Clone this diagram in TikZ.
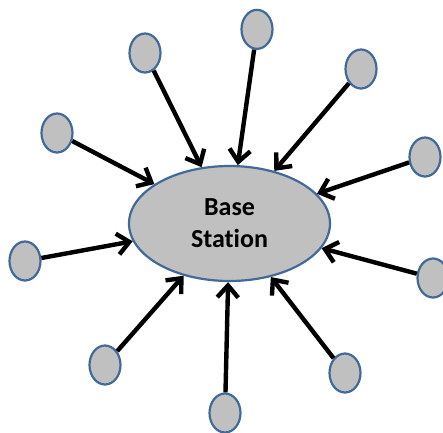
\documentclass[tikz,border=0pt]{standalone}
\usepackage{fontspec}
\setmainfont{Carlito}[Ligatures={NoCommon}]
\usetikzlibrary{shapes.geometric,arrows.meta}
\definecolor{nodefill}{HTML}{C0C0C0}
\definecolor{nodeline}{HTML}{41699A}
\tikzset{
  sensor/.style={ellipse,draw=nodeline,fill=nodefill,line width=2.2pt,minimum width=31pt,minimum height=39pt,inner sep=0pt},
  station/.style={ellipse,draw=nodeline,fill=nodefill,line width=2.2pt,minimum width=201pt,minimum height=115pt,inner sep=0pt,align=center,font=\fontsize{26}{32}\selectfont\bfseries},
  link/.style={line width=4.4pt,-{Straight Barb[length=12pt,width=21pt]}}
}
\begin{document}
\begin{tikzpicture}[x=1pt,y=-1pt]
\useasboundingbox (0,0) rectangle (443,432);
\node[station] (bs) at (229.5,223.5) {Base\\Station};
\node[sensor] (s1) at (145,53) {};
\node[sensor] (s2) at (257,88/3) {};
\node[sensor] (s3) at (361,69) {};
\node[sensor] (s4) at (425,157) {};
\node[sensor] (s5) at (433,278) {};
\node[sensor] (s6) at (345,373) {};
\node[sensor] (s7) at (225,413) {};
\node[sensor] (s8) at (105,365) {};
\node[sensor] (s9) at (25,261) {};
\node[sensor] (s10) at (57,133) {};
\foreach \i in {1,...,10} {\draw[link] (s\i) -- (bs);}
\end{tikzpicture}
\end{document}
